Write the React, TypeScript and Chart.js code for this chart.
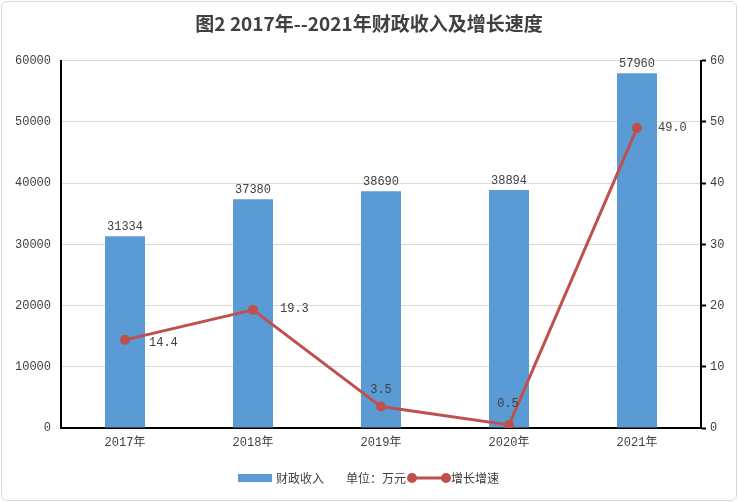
import React, { useEffect, useRef } from 'react';
import { Chart, registerables } from 'chart.js';

Chart.register(...registerables);

// chart data
const years = ['2017年', '2018年', '2019年', '2020年', '2021年'];
const revenue = [31334, 37380, 38690, 38894, 57960];
const growth = [14.4, 19.3, 3.5, 0.5, 49.0];
const revenueLabel = '财政收入';
const growthLabel = '增长增速';
const unitNote = '单位：万元';
const titleText = '图2 2017年--2021年财政收入及增长速度';

// where each growth label sits relative to its point (align, dx, dy)
const growthLabelPos: [CanvasTextAlign, number, number][] = [
  ['left', 24, 3],
  ['left', 27, -1],
  ['center', 0, -17],
  ['center', -1, -21],
  ['left', 21, 0],
];

const BLUE = '#5B9BD5';
const RED = '#C0504D';
const TEXT = '#404040';
const NUM_FONT = '12px "Liberation Mono", "Noto Sans CJK SC", monospace';
const CJK_FONT = '12px "Noto Sans CJK SC", sans-serif';

const valueLabels = {
  id: 'valueLabels',
  afterDatasetsDraw(chart: any) {
    const ctx = chart.ctx;
    ctx.save();
    ctx.font = NUM_FONT;
    ctx.fillStyle = TEXT;
    // bar values
    const bars = chart.getDatasetMeta(1).data;
    bars.forEach((bar: any, i: number) => {
      ctx.textAlign = 'center';
      ctx.textBaseline = 'bottom';
      ctx.fillText(String(revenue[i]), bar.x, bar.y - 3);
    });
    // line values
    const pts = chart.getDatasetMeta(0).data;
    pts.forEach((pt: any, i: number) => {
      const [align, dx, dy] = growthLabelPos[i];
      ctx.textAlign = align;
      ctx.textBaseline = 'middle';
      ctx.fillText(growth[i].toFixed(1), pt.x + dx, pt.y + dy);
    });
    ctx.restore();
  },
};

// Excel-like legend at the bottom
const bottomLegend = {
  id: 'bottomLegend',
  afterDraw(chart: any) {
    const ctx = chart.ctx;
    const y = 478;
    ctx.save();
    ctx.font = CJK_FONT;
    ctx.textBaseline = 'middle';
    ctx.textAlign = 'left';
    let x = 238;
    ctx.fillStyle = BLUE;
    ctx.fillRect(x, y - 4, 34, 8);
    x += 38;
    ctx.fillStyle = TEXT;
    ctx.fillText(revenueLabel, x, y);
    x += ctx.measureText(revenueLabel).width + 22;
    ctx.fillText(unitNote, x, y);
    x += ctx.measureText(unitNote).width + 6;
    ctx.strokeStyle = RED;
    ctx.lineWidth = 3;
    ctx.beginPath();
    ctx.moveTo(x, y);
    ctx.lineTo(x + 34, y);
    ctx.stroke();
    ctx.fillStyle = RED;
    [x, x + 34].forEach((cx) => {
      ctx.beginPath();
      ctx.arc(cx, y, 5, 0, Math.PI * 2);
      ctx.fill();
    });
    ctx.fillStyle = TEXT;
    ctx.fillText(growthLabel, x + 39, y);
    ctx.restore();
  },
};

export default function App() {
  const chartRef = useRef<HTMLCanvasElement | null>(null);

  useEffect(() => {
    document.body.style.margin = '0';
    if (!chartRef.current) return;
    const chart = new Chart(chartRef.current, {
      type: 'bar',
      data: {
        labels: years,
        datasets: [
          {
            type: 'line',
            label: growthLabel,
            data: growth,
            yAxisID: 'y1',
            borderColor: RED,
            backgroundColor: RED,
            borderWidth: 3,
            pointRadius: 5,
            pointBackgroundColor: RED,
            pointBorderWidth: 0,
            order: 0,
          } as any,
          {
            type: 'bar',
            label: revenueLabel,
            data: revenue,
            yAxisID: 'y',
            backgroundColor: BLUE,
            categoryPercentage: 1,
            barPercentage: 0.3125,
            order: 1,
          },
        ],
      },
      options: {
        responsive: false,
        animation: false,
        devicePixelRatio: 1,
        layout: { padding: { left: 0, right: 0, top: 0, bottom: 40 } },
        plugins: {
          legend: { display: false },
          tooltip: { enabled: false },
          title: {
            display: true,
            text: titleText,
            color: TEXT,
            font: { family: '"Noto Sans CJK SC", sans-serif', size: 19, weight: 'bold' },
            padding: { top: 12, bottom: 26 },
          },
        },
        scales: {
          x: {
            grid: { display: false, drawTicks: false },
            border: { display: true, color: '#000', width: 2 },
            ticks: { color: TEXT, font: { family: '"Liberation Mono", "Noto Sans CJK SC"', size: 12 }, padding: 8 },
            afterFit: (s: any) => { s.height = 34; },
          },
          y: {
            position: 'left',
            min: 0,
            max: 60000,
            ticks: {
              stepSize: 10000,
              color: TEXT,
              padding: 10,
              font: { family: '"Liberation Mono", monospace', size: 12 },
              callback: (v: any) => String(v),
            },
            grid: { color: '#d9d9d9', lineWidth: 1, drawTicks: false },
            border: { display: true, color: '#000', width: 2 },
            afterFit: (s: any) => { s.width = 61; },
          },
          y1: {
            position: 'right',
            min: 0,
            max: 60,
            ticks: { stepSize: 10, color: TEXT, padding: 4, font: { family: '"Liberation Mono", monospace', size: 12 } },
            grid: { drawOnChartArea: false, drawTicks: true, tickLength: 5, tickColor: '#000', tickWidth: 2 },
            border: { display: true, color: '#000', width: 2 },
            afterFit: (s: any) => { s.width = 37; },
          },
        },
      } as any,
      plugins: [valueLabels, bottomLegend],
    });
    return () => chart.destroy();
  }, []);

  return (
    <div style={{ position: 'relative', width: 738, height: 502, background: '#fff' }}>
      <canvas ref={chartRef} width={738} height={502} style={{ position: 'absolute', left: 0, top: 0 }} />
      <div
        style={{
          position: 'absolute',
          left: 1,
          top: 1,
          width: 736,
          height: 500,
          boxSizing: 'border-box',
          border: '1px solid #d9d9d9',
          borderRadius: 6,
          pointerEvents: 'none',
        }}
      />
    </div>
  );
}
